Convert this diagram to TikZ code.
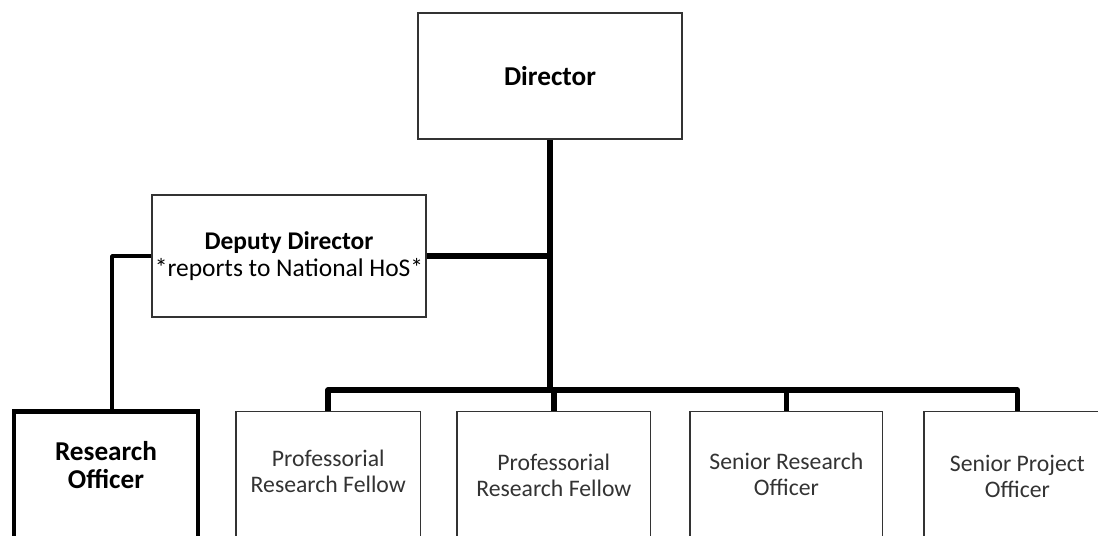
\documentclass[tikz,border=0pt]{standalone}
\usepackage{fontspec}
\setmainfont{Carlito}
\usetikzlibrary{positioning}

\begin{document}
\begin{tikzpicture}[
  x=0.02cm, y=-0.02cm,
  node distance=7mm,
  box/.style={draw=black!80, line width=0.9pt, inner sep=0pt, fill=white,
              minimum height=3cm},
  post/.style={box, minimum width=3.72cm, anchor=north},
  lead/.style={box, draw=black, line width=2.6pt},
  lbl/.style={font=\fontsize{13.5}{14.5}\selectfont, text=black!80, align=center},
  link/.style={line width=3.2pt, line join=round},
  thinlink/.style={line width=2pt, line join=round}]
  \useasboundingbox (0,0) rectangle (1098,535);
  \clip (0,0) rectangle (1098,535);
  % top of the chart
  \node[box, minimum width=5.28cm, minimum height=2.52cm,
        font=\fontsize{15.5}{16}\selectfont\bfseries] (dir) at (550,76) {Director};
  \node[box, minimum width=5.48cm, minimum height=2.44cm, align=center,
        font=\fontsize{14.5}{15}\selectfont] (dep) at (289,256)
        {\textbf{Deputy Director}\\*reports to National HoS*};
  % bottom row
  \node[lead, minimum width=3.68cm, anchor=north] (ro) at (106,409) {};
  \node[post, minimum width=3.69cm, right=7mm of ro] (prf1) {};
  \node[post, minimum width=3.87cm, right=7mm of prf1] (prf2) {};
  \node[post, minimum width=3.85cm, right=7.6mm of prf2] (sro) {};
  \node[post, minimum width=3.73cm, right=8mm of sro] (spo) {};
  \node[lbl, font=\fontsize{15.5}{15.5}\selectfont\bfseries, text=black]
       (ro-t) at ([yshift=-1.12cm]ro.north) {Research\\Officer};
  \node[lbl] (prf1-t) at ([yshift=-1.22cm]prf1.north) {Professorial\\Research Fellow};
  \node[lbl] (prf2-t) at ([yshift=-1.3cm]prf2.north) {Professorial\\Research Fellow};
  \node[lbl] (sro-t) at ([yshift=-1.28cm]sro.north) {Senior Research\\Officer};
  \node[lbl] (spo-t) at ([yshift=-1.32cm]spo.north) {Senior Project\\Officer};
  % connectors
  \coordinate (bus) at (550,390);
  \draw[link] (dir) -- (bus);
  \draw[link] (dep.east) -- (dep.east -| dir.south);
  \draw[link] (prf1.north) -- (prf1.north |- bus) -- (spo.north |- bus) -- (spo.north);
  \draw[link] (prf2.north) -- (prf2.north |- bus);
  \draw[link] (sro.north) -- (sro.north |- bus);
  \draw[thinlink] (dep.west) -| ([xshift=1.2mm]ro.north);
\end{tikzpicture}
\end{document}
